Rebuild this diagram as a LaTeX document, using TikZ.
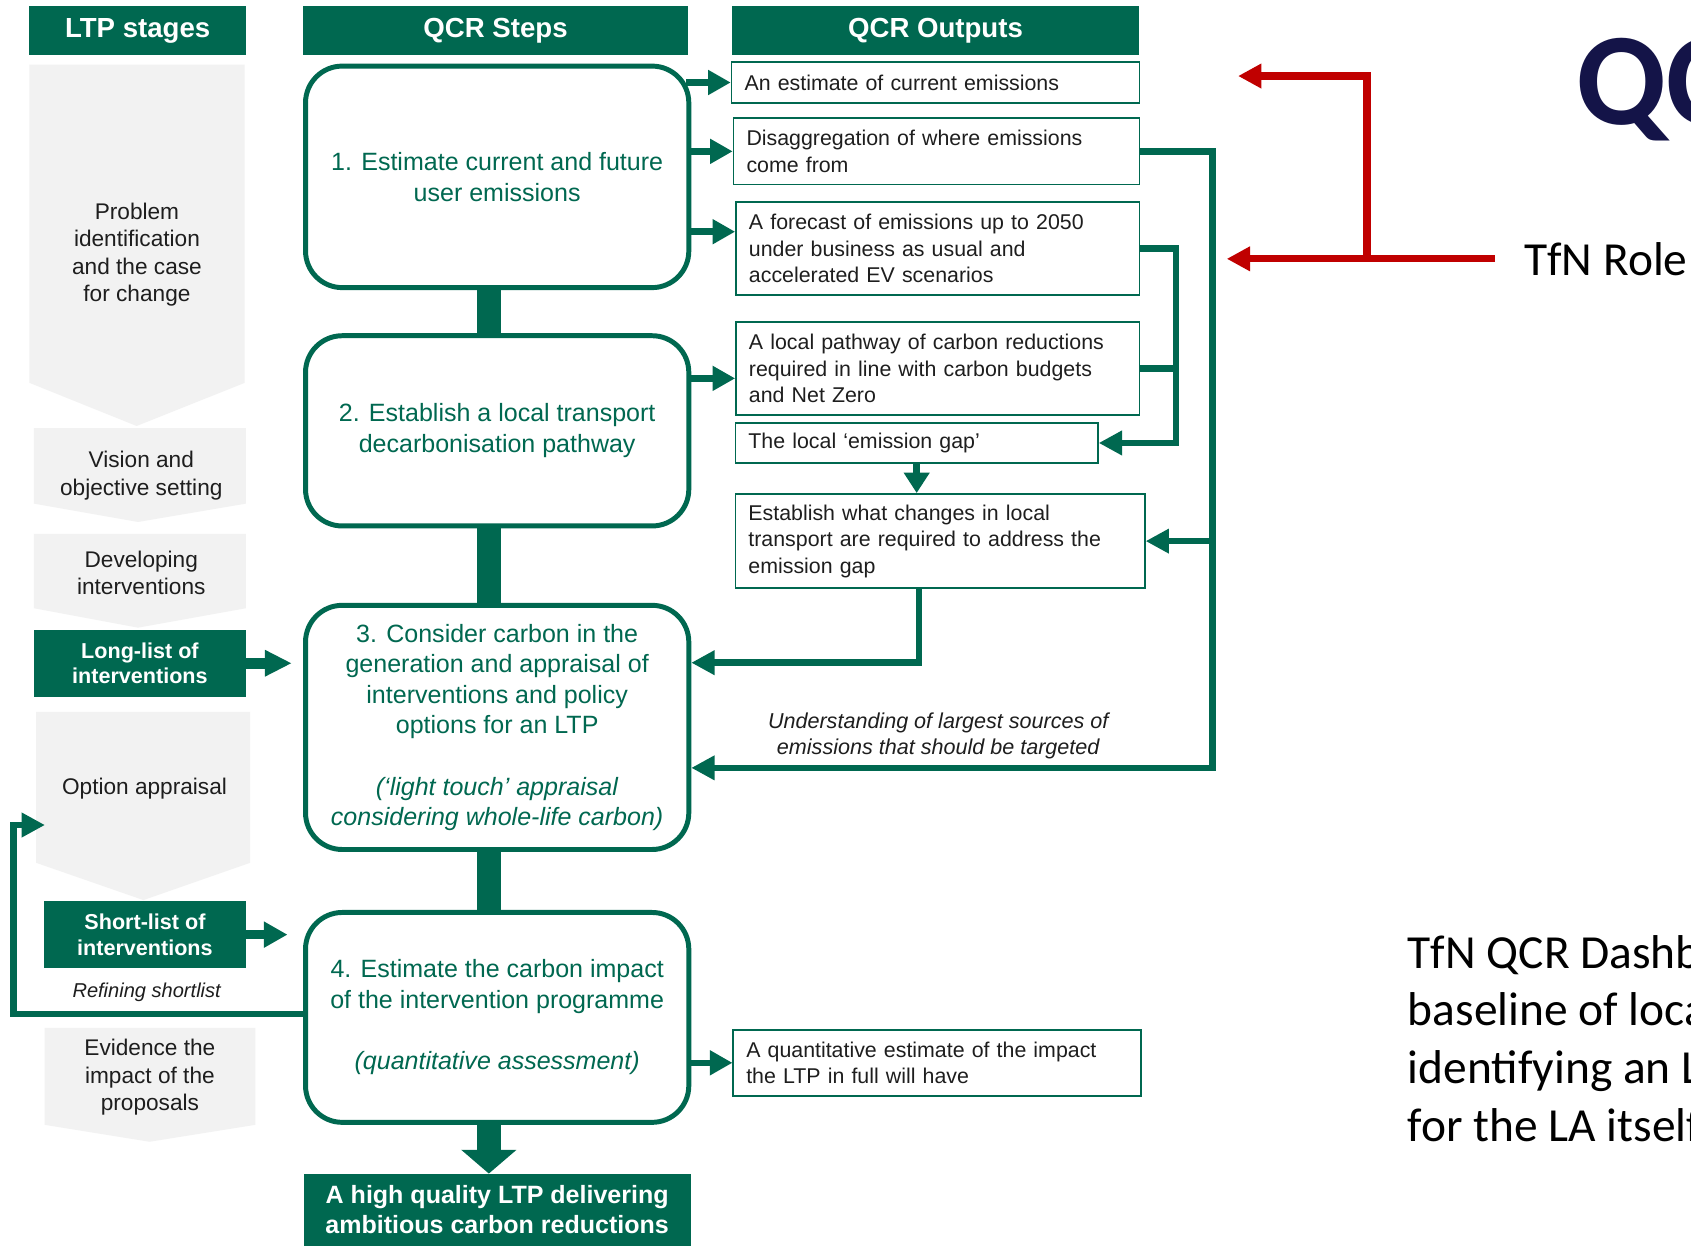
\documentclass[tikz,border=0pt]{standalone}
\usepackage{fontspec}
\setmainfont{Liberation Sans}
\newfontfamily\calibri{Carlito}
\usetikzlibrary{arrows.meta}
\definecolor{tgreen}{RGB}{0,104,80}
\definecolor{tgrey}{RGB}{242,242,242}
\definecolor{tnavy}{RGB}{20,20,72}
\definecolor{tred}{RGB}{192,0,0}
\definecolor{ttext}{RGB}{30,30,30}
\begin{document}
\begin{tikzpicture}[x=0.5pt,y=-0.5pt,
  hdr/.style={fill=tgreen, text=white, font=\fontsize{12.8}{15}\selectfont\bfseries, minimum height=22.7pt, inner sep=0pt},
  stepbox/.style={draw=tgreen, line width=2.3pt, rounded corners=17pt, fill=white, minimum width=177.7pt, text=tgreen, align=center, font=\fontsize{11.6}{14.2}\selectfont, inner sep=0pt},
  stagetxt/.style={align=center, text=ttext, font=\fontsize{10.5}{12.65}\selectfont, inner sep=0pt},
  greenstage/.style={fill=tgreen, text=white, align=center, font=\fontsize{10}{12}\selectfont\bfseries, inner sep=0pt},
  outbox/.style={draw=tgreen, line width=0.8pt, fill=white, align=left, text=ttext, font=\fontsize{9.9}{12.3}\selectfont, inner xsep=6pt, inner ysep=0pt},
  conn/.style={draw=tgreen, line width=3pt},
  sarrow/.style={draw=tgreen, line width=3pt, -{Triangle[length=10.5pt,width=11pt]}},
  carrow/.style={draw=tgreen, line width=3pt, -{Triangle[length=10.8pt,width=10.8pt]}},
  rarrow/.style={draw=tred, line width=3.4pt, -{Triangle[length=10.8pt,width=10.8pt]}},
  rtext/.style={font=\calibri\fontsize{22}{26.85}\selectfont, text=black, anchor=base west, inner sep=0pt}
]
\useasboundingbox (0,0) rectangle (1568,1155);
\fill[white] (0,0) rectangle (1568,1155);
\clip (0,0) rectangle (1568,1155);

% headers
\node[hdr, minimum width=100.35pt] (h1) at (127.65,28.3) {LTP stages};
\node[hdr, minimum width=178.5pt] (h2) at (459.5,28.3) {QCR Steps};
\node[hdr, minimum width=189.05pt] (h3) at (867.45,28.3) {QCR Outputs};

% LTP stages
\fill[tgrey] (27.3,60) -- (226.9,60) -- (226.9,355) -- (126.7,395) -- (27.3,355) -- cycle;
\node[stagetxt] (g1) at (127,236) {Problem\\identification\\and the case\\for change};
\fill[tgrey] (31.5,397) -- (228,397) -- (228,467) -- (128,484) -- (31.5,467) -- cycle;
\node[stagetxt] (g2) at (131,441) {Vision and\\objective setting};
\fill[tgrey] (31.5,495) -- (228,495) -- (228,564) -- (128,582) -- (31.5,564) -- cycle;
\node[stagetxt] (g3) at (131,531) {Developing\\interventions};
\node[greenstage, minimum width=98.25pt, minimum height=31pt] (ll) at (129.75,615) {Long-list of\\interventions};
\fill[tgrey] (33.4,660) -- (232,660) -- (232,800) -- (133,834.6) -- (33.4,800) -- cycle;
\node[stagetxt] (g4) at (134,731) {Option appraisal};
\node[greenstage, minimum width=93.6pt, minimum height=31.15pt] (sl) at (134.4,866.65) {Short-list of\\interventions};
\node[font=\fontsize{9.3}{11}\selectfont\itshape, text=ttext, inner sep=0pt] (ref) at (136,920) {Refining shortlist};
\fill[tgrey] (41.4,953) -- (236.7,953) -- (236.7,1043) -- (138.7,1058.7) -- (41.4,1043) -- cycle;
\node[stagetxt] (g5) at (139,999) {Evidence the\\impact of the\\proposals};

% QCR steps
\node[stepbox, minimum height=102.7pt] (s1) at (461,164) {1. Estimate current and future\\user emissions};
\node[stepbox, minimum height=88.2pt] (s2) at (461,399.5) {2. Establish a local transport\\decarbonisation pathway};
\node[stepbox, minimum height=113.2pt] (s3) at (461,674.5) {3. Consider carbon in the\\generation and appraisal of\\interventions and policy\\options for an LTP\\[14.2pt]\textit{(‘light touch’ appraisal}\\\textit{considering whole-life carbon)}};
\node[stepbox, minimum height=97.3pt] (s4) at (461,943.4) {4. Estimate the carbon impact\\of the intervention programme\\[14.2pt]\textit{(quantitative assessment)}};
\node[fill=tgreen, text=white, align=center, font=\fontsize{11.6}{14}\selectfont\bfseries, minimum width=179.45pt, minimum height=33.2pt, inner sep=0pt] (fin) at (461,1121.8) {A high quality LTP delivering\\ambitious carbon reductions};

\draw[tgreen, line width=11.25pt] ([xshift=-3.85pt]s1.south) -- ([xshift=-3.85pt]s2.north);
\draw[tgreen, line width=11.25pt] ([xshift=-3.85pt]s2.south) -- ([xshift=-3.85pt]s3.north);
\draw[tgreen, line width=11.25pt] ([xshift=-3.85pt]s3.south) -- ([xshift=-3.85pt]s4.north);
\draw[tgreen, line width=11.25pt, -{Triangle[length=11pt,width=25pt]}] ([xshift=-3.85pt]s4.south) -- ([xshift=-3.85pt]fin.north);

% stage arrows
\draw[tgreen, line width=5pt, shorten >=5.2pt, -{Triangle[length=12.5pt,width=11.5pt]}] (ll.east) -- (ll.east -| s3.west);
\draw[tgreen, line width=4.5pt, shorten >=7.2pt, -{Triangle[length=11pt,width=11.5pt]}] (sl.east) -- (sl.east -| s4.west);

% outputs
\node[outbox, text width=177.05pt, minimum height=19.3pt] (o1) at (867.45,76.5) {An estimate of current emissions};
\node[outbox, text width=176.15pt, minimum height=30.65pt] (o2) at (868.35,140.35) {Disaggregation of where emissions\\come from};
\node[outbox, text width=175pt, minimum height=42.95pt] (o3) at (869.5,230.55) {A forecast of emissions up to 2050\\under business as usual and\\accelerated EV scenarios};
\node[outbox, text width=175pt, minimum height=42.95pt] (o4) at (869.5,341.85) {A local pathway of carbon reductions\\required in line with carbon budgets\\and Net Zero};
\node[outbox, text width=156pt, minimum height=18.75pt] (o5) at (850,410.75) {The local ‘emission gap’};
\node[outbox, text width=177.75pt, minimum height=43.75pt] (o6) at (871.75,501.75) {Establish what changes in local\\transport are required to address the\\emission gap};
\node[outbox, text width=176.85pt, minimum height=30.5pt] (o7) at (868.85,985.5) {A quantitative estimate of the impact\\the LTP in full will have};

% step -> output arrows
\draw[sarrow] ([xshift=-2.35pt]s1.east |- o1.west) -- (o1.west);
\draw[sarrow] (s1.east |- o2.west) -- (o2.west);
\coordinate (a3) at ([yshift=7.85pt]o3.west);
\draw[sarrow] (s1.east |- a3) -- (a3);
\coordinate (a4) at ([yshift=-4.5pt]o4.west);
\draw[sarrow] (s2.east |- a4) -- (a4);
\draw[sarrow] (s4.east |- o7.west) -- (o7.west);

% right-hand connectors
\coordinate (r1) at (1124.5,712);
\draw[carrow] (o2.east) -| (r1) -- (s3.east |- r1);
\draw[carrow] (o6.east -| r1) -- (o6.east);
\coordinate (r2) at (1090.5,410.75);
\draw[carrow] (o3.east) -| (r2) -- (o5.east);
\draw[conn] (o4.east) -- (o4.east -| r2);
\draw[draw=tgreen, line width=3pt, -{Triangle[length=9.5pt,width=11.5pt]}] (o5.south) -- (o5.south |- o6.north);
\coordinate (r3) at (852,614.5);
\draw[carrow] (o6.south -| r3) -- (r3) -- (s3.east |- r3);
\node[font=\fontsize{10}{12}\selectfont\itshape, text=ttext, align=center, inner sep=0pt] (lab) at (870,682) {Understanding of largest sources of\\emissions that should be targeted};

% feedback loop
\coordinate (fb1) at (12.5,940);
\coordinate (fb2) at (12.5,765);
\coordinate (fb3) at (41.7,765);
\draw[carrow] (s4.west |- fb1) -- (fb1) -- (fb2) -- (fb3);

% right side
\node[font=\calibri\bfseries\fontsize{61}{64}\selectfont, text=tnavy, anchor=base west, inner sep=0pt] (qc) at (1461,115) {QCR};
\node[rtext] (role) at (1413,255) {TfN Role};
\coordinate (rd1) at (1386.3,240);
\coordinate (rdj) at (1267.4,240);
\coordinate (rd2) at (1137.5,240);
\coordinate (rdt) at (1267.4,70.5);
\coordinate (rd3) at (1148,70.5);
\draw[rarrow] (rd1) -- (rd2);
\draw[rarrow] (rdj) -- (rdt) -- (rd3);

\node[rtext] (rt1) at (1305,897.6) {TfN QCR Dashboard};
\node[rtext] (rt2) at (1305,951.3) {baseline of local};
\node[rtext] (rt3) at (1305,1005) {identifying an LTP};
\node[rtext] (rt4) at (1305,1058.7) {for the LA itself};
\end{tikzpicture}
\end{document}
